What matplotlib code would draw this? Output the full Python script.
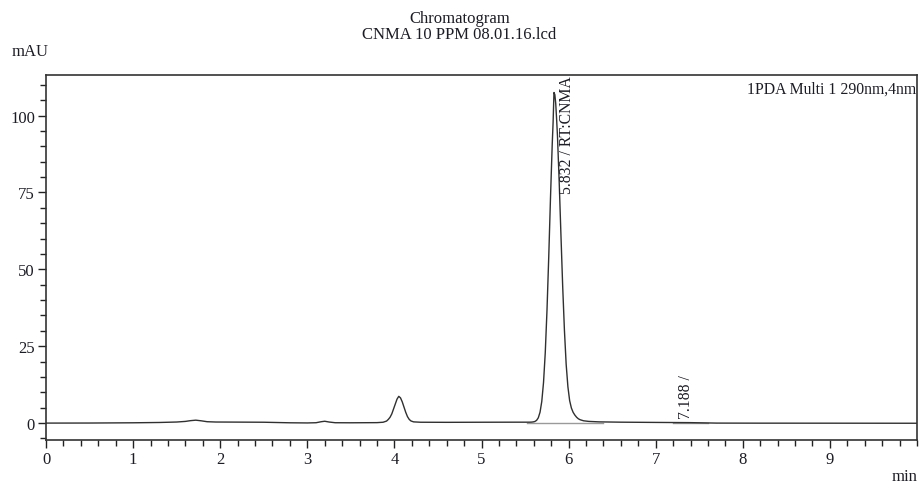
"""Chromatogram of CNMA 10 PPM sample (PDA 290 nm)."""

import matplotlib
matplotlib.use("Agg")
import matplotlib.pyplot as plt
from matplotlib.ticker import MultipleLocator

plt.rcParams["font.family"] = ["Liberation Serif", "DejaVu Serif"]

# detector trace (min, mAU)
time_min = [
    0.00, 0.50, 1.00, 1.30, 1.50, 1.60, 1.66, 1.72, 1.78, 1.85, 1.95, 2.20, 2.50,
    2.80, 3.00, 3.10, 3.16, 3.20, 3.25, 3.32, 3.50, 3.80, 3.87, 3.91, 3.93, 3.95,
    3.97, 3.99, 4.01, 4.03, 4.05, 4.07, 4.09, 4.11, 4.13, 4.15, 4.17, 4.19, 4.22,
    4.30, 4.60, 5.00, 5.40, 5.55, 5.572, 5.592, 5.612, 5.632, 5.652, 5.672,
    5.692, 5.712, 5.732, 5.752, 5.772, 5.792, 5.802, 5.812, 5.822, 5.832, 5.842,
    5.852, 5.862, 5.872, 5.892, 5.912, 5.932, 5.952, 5.972, 5.992, 6.012, 6.032,
    6.052, 6.072, 6.092, 6.112, 6.132, 6.172, 6.232, 6.35, 6.60, 7.00, 7.40,
    7.70, 8.20, 9.00, 10.00,
]
signal_mau = [
    0.00, 0.02, 0.10, 0.20, 0.35, 0.55, 0.80, 0.95, 0.75, 0.45, 0.35, 0.32, 0.28,
    0.10, 0.05, 0.12, 0.45, 0.60, 0.35, 0.12, 0.10, 0.15, 0.28, 0.66, 1.20, 1.90,
    3.00, 4.60, 6.20, 7.80, 8.70, 8.20, 6.90, 5.20, 3.50, 2.10, 1.20, 0.70, 0.40,
    0.28, 0.25, 0.28, 0.30, 0.30, 0.32, 0.38, 0.51, 0.88, 1.72, 3.54,
    7.05, 13.2, 22.9, 36.8, 54.1, 73.2, 82.0, 90.7, 97.8, 107.5, 106.8,
    104.0, 99.0, 93.5, 78.4, 61.2, 44.5, 30.2, 19.1, 11.8, 7.3, 4.9,
    3.5, 2.6, 1.9, 1.4, 1.1, 0.75, 0.55, 0.40, 0.30, 0.22, 0.15,
    0.00, -0.02, -0.03, -0.05,
]

# integration baselines drawn under detected peaks
baseline_start = [5.52, 7.20]
baseline_end = [6.40, 7.60]

peak_labels = ["5.832 / RT:CNMA", "7.188 /"]
label_x = [5.98, 7.35]

INK = "#1c1c24"

fig = plt.figure(figsize=(9.19, 4.85), dpi=100)
ax = fig.add_axes([0.0501, 0.0907, 0.9477, 0.7526])

ax.plot(time_min, signal_mau, color="#303030", linewidth=1.0, zorder=3)
for x0, x1 in zip(baseline_start, baseline_end):
    ax.plot([x0, x1], [0, 0], color="#9a9a9a", linewidth=1.0, zorder=2)

ax.set_xlim(0, 10)
ax.set_ylim(-5.5, 113.2)

ax.xaxis.set_major_locator(MultipleLocator(1))
ax.xaxis.set_minor_locator(MultipleLocator(0.2))
ax.yaxis.set_major_locator(MultipleLocator(25))
ax.yaxis.set_minor_locator(MultipleLocator(5))
ax.set_xticks(range(10))

ax.tick_params(which="both", direction="out", colors="#222222", labelcolor=INK,
               labelsize=12, width=1.0)
ax.tick_params(which="major", length=6, pad=2)
ax.tick_params(which="minor", length=4)
for spine in ax.spines.values():
    spine.set_linewidth(1.2)
    spine.set_color("#333333")

ax.text(label_x[0], 113.0, peak_labels[0], rotation=90, ha="center", va="top",
        fontsize=11.3, color=INK)
ax.text(label_x[1], 1.8, peak_labels[1], rotation=90, ha="center", va="bottom",
        fontsize=11.3, color=INK)

ax.text(0.999, 0.985, "1PDA Multi 1 290nm,4nm", transform=ax.transAxes,
        ha="right", va="top", fontsize=11.3, color=INK)

fig.text(0.5, 0.978, "Chromatogram", ha="center", va="top", fontsize=12, color=INK)
fig.text(0.5, 0.945, "CNMA 10 PPM 08.01.16.lcd", ha="center", va="top", fontsize=12,
         color=INK)
fig.text(12 / 919, 1 - 52 / 485, "mAU", ha="left", va="center", fontsize=12, color=INK)
fig.text(917 / 919, 1 - 477 / 485, "min", ha="right", va="center", fontsize=12, color=INK)

fig.savefig("out.png", dpi=100)
